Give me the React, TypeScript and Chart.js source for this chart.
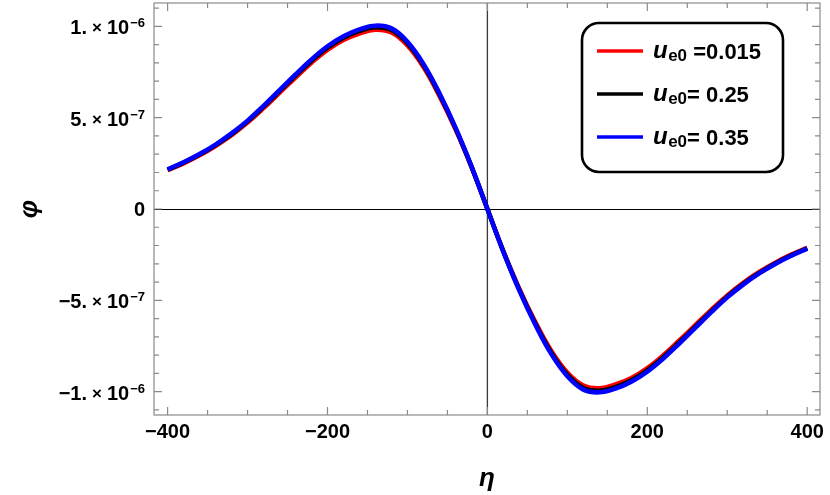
import React, { useEffect, useRef } from 'react';
import { Chart, registerables } from 'chart.js';

Chart.register(...registerables);

// ---------- data ----------
const etaValues = [
  -400, -380, -360, -340, -320, -300, -280, -260, -240, -220, -200, -180, -160, -140, -120, -100, -80, -60, -40, -20,
  0, 20, 40, 60, 80, 100, 120, 140, 160, 180, 200, 220, 240, 260, 280, 300, 320, 340, 360, 380, 400,
];

const phiRed = [
  2.12e-7, 2.5e-7, 2.94e-7, 3.45e-7, 4.04e-7, 4.73e-7, 5.52e-7, 6.36e-7, 7.2e-7, 8.01e-7, 8.71e-7, 9.25e-7, 9.61e-7, 9.81e-7, 9.66e-7, 8.95e-7, 7.77e-7, 6.19e-7, 4.37e-7, 2.3e-7,
  0, -2.3e-7, -4.37e-7, -6.19e-7, -7.77e-7, -8.95e-7, -9.66e-7, -9.81e-7, -9.61e-7, -9.25e-7, -8.71e-7, -8.01e-7, -7.2e-7, -6.36e-7, -5.52e-7, -4.73e-7, -4.04e-7, -3.45e-7, -2.94e-7, -2.5e-7, -2.12e-7,
];

const phiBlack = [
  2.15e-7, 2.54e-7, 2.98e-7, 3.5e-7, 4.1e-7, 4.8e-7, 5.6e-7, 6.45e-7, 7.3e-7, 8.12e-7, 8.83e-7, 9.38e-7, 9.75e-7, 9.95e-7, 9.8e-7, 9.08e-7, 7.88e-7, 6.28e-7, 4.43e-7, 2.33e-7,
  0, -2.33e-7, -4.43e-7, -6.28e-7, -7.88e-7, -9.08e-7, -9.8e-7, -9.95e-7, -9.75e-7, -9.38e-7, -8.83e-7, -8.12e-7, -7.3e-7, -6.45e-7, -5.6e-7, -4.8e-7, -4.1e-7, -3.5e-7, -2.98e-7, -2.54e-7, -2.15e-7,
];

const phiBlue = [
  2.17e-7, 2.56e-7, 3.01e-7, 3.53e-7, 4.14e-7, 4.84e-7, 5.65e-7, 6.51e-7, 7.37e-7, 8.19e-7, 8.91e-7, 9.46e-7, 9.84e-7, 10.04e-7, 9.89e-7, 9.16e-7, 7.95e-7, 6.34e-7, 4.47e-7, 2.35e-7,
  0, -2.35e-7, -4.47e-7, -6.34e-7, -7.95e-7, -9.16e-7, -9.89e-7, -10.04e-7, -9.84e-7, -9.46e-7, -8.91e-7, -8.19e-7, -7.37e-7, -6.51e-7, -5.65e-7, -4.84e-7, -4.14e-7, -3.53e-7, -3.01e-7, -2.56e-7, -2.17e-7,
];

const seriesColors = ['#ff0000', '#000000', '#0000ff'];
const seriesValueTexts = [' =0.015', '= 0.25', '= 0.35'];

const xMajorTicks = [-400, -200, 0, 200, 400];
const xMajorLabels = ['\u2212400', '\u2212200', '0', '200', '400'];
const xMinorTicks = [-350, -300, -250, -150, -100, -50, 50, 100, 150, 250, 300, 350];

const yMajorTicks = [-1e-6, -5e-7, 0, 5e-7, 1e-6];
const yMajorMantissas = ['\u22121.', '\u22125.', '0', '5.', '1.'];
const yMajorExponents = ['\u22126', '\u22127', '', '\u22127', '\u22126'];
const yMinorTicks = [
  -1.1e-6, -9e-7, -8e-7, -7e-7, -6e-7, -4e-7, -3e-7, -2e-7, -1e-7,
  1e-7, 2e-7, 3e-7, 4e-7, 6e-7, 7e-7, 8e-7, 9e-7, 1.1e-6,
];

const X_MIN = -417;
const X_MAX = 416;
const Y_MIN = -1.128e-6;
const Y_MAX = 1.128e-6;

const SANS = '"Liberation Sans", Arial, sans-serif';

const mmaPlugin = {
  id: 'mmaFrame',
  beforeDatasetsDraw(chart: any) {
    const { ctx, chartArea: a, scales } = chart;
    const x = scales.x;
    const y = scales.y;
    ctx.save();
    const y0 = Math.round(y.getPixelForValue(0)) + 0.5;
    ctx.beginPath();
    ctx.strokeStyle = '#000';
    ctx.lineWidth = 1;
    ctx.moveTo(a.left, y0);
    ctx.lineTo(a.right, y0);
    ctx.stroke();
    const x0 = x.getPixelForValue(0);
    ctx.beginPath();
    ctx.strokeStyle = '#3a3a3a';
    ctx.lineWidth = 1.3;
    ctx.moveTo(x0, a.top);
    ctx.lineTo(x0, a.bottom);
    ctx.stroke();
    ctx.restore();
  },
  afterDatasetsDraw(chart: any) {
    const { ctx, chartArea: a, scales } = chart;
    const x = scales.x;
    const y = scales.y;
    ctx.save();

    // frame
    ctx.strokeStyle = '#8a8a8a';
    ctx.lineWidth = 1.2;
    ctx.strokeRect(a.left, a.top, a.right - a.left, a.bottom - a.top);

    const majorLen = 8;
    const minorLen = 5;
    ctx.beginPath();
    const xt = (v: number, len: number) => {
      const px = x.getPixelForValue(v);
      ctx.moveTo(px, a.bottom);
      ctx.lineTo(px, a.bottom - len);
      ctx.moveTo(px, a.top);
      ctx.lineTo(px, a.top + len);
    };
    const yt = (v: number, len: number) => {
      const py = y.getPixelForValue(v);
      ctx.moveTo(a.left, py);
      ctx.lineTo(a.left + len, py);
      ctx.moveTo(a.right, py);
      ctx.lineTo(a.right - len, py);
    };
    xMajorTicks.forEach((v) => xt(v, majorLen));
    xMinorTicks.forEach((v) => xt(v, minorLen));
    yMajorTicks.forEach((v) => yt(v, majorLen));
    yMinorTicks.forEach((v) => yt(v, minorLen));
    ctx.stroke();

    // x tick labels
    ctx.fillStyle = '#000';
    ctx.font = `bold 20px ${SANS}`;
    ctx.textAlign = 'center';
    ctx.textBaseline = 'alphabetic';
    xMajorTicks.forEach((v, i) => {
      ctx.fillText(xMajorLabels[i], x.getPixelForValue(v), a.bottom + 23);
    });

    // y tick labels
    const rightEdge = a.left - 9;
    yMajorTicks.forEach((v, i) => {
      const py = y.getPixelForValue(v);
      const mant = yMajorMantissas[i];
      const exp = yMajorExponents[i];
      ctx.textAlign = 'right';
      ctx.textBaseline = 'alphabetic';
      if (!exp) {
        ctx.font = `bold 20px ${SANS}`;
        ctx.fillText(mant, rightEdge, py + 7);
        return;
      }
      ctx.font = `bold 13px ${SANS}`;
      const expW = ctx.measureText(exp).width;
      ctx.fillText(exp, rightEdge, py + 1);
      ctx.font = `bold 20px ${SANS}`;
      let cx = rightEdge - expW - 1;
      ctx.fillText('10', cx, py + 8);
      cx -= ctx.measureText('10').width + 5;
      ctx.font = `bold 17px ${SANS}`;
      ctx.fillText('\u00d7', cx, py + 7);
      cx -= ctx.measureText('\u00d7').width + 5;
      ctx.font = `bold 20px ${SANS}`;
      ctx.fillText(mant, cx, py + 8);
    });

    // axis labels
    ctx.font = `bold italic 26px ${SANS}`;
    ctx.textAlign = 'center';
    ctx.textBaseline = 'middle';
    ctx.fillText('\u03b7', (a.left + a.right) / 2, a.bottom + 64);
    ctx.save();
    ctx.translate(30, (a.top + a.bottom) / 2);
    ctx.rotate(-Math.PI / 2);
    ctx.fillText('\u03c6', 0, 0);
    ctx.restore();

    // legend
    const lx = 582;
    const ly = 23;
    const lw = 201;
    const lh = 149;
    ctx.beginPath();
    ctx.roundRect(lx, ly, lw, lh, 17);
    ctx.fillStyle = '#fff';
    ctx.fill();
    ctx.lineWidth = 2.6;
    ctx.strokeStyle = '#000';
    ctx.stroke();

    seriesColors.forEach((c, i) => {
      const yy = 51 + 43 * i;
      ctx.beginPath();
      ctx.strokeStyle = c;
      ctx.lineWidth = 3.5;
      ctx.moveTo(597, yy);
      ctx.lineTo(643, yy);
      ctx.stroke();
      ctx.fillStyle = '#000';
      ctx.textAlign = 'left';
      ctx.textBaseline = 'alphabetic';
      let tx = 653;
      ctx.font = `bold italic 24px ${SANS}`;
      ctx.fillText('u', tx, yy + 6.5);
      tx += ctx.measureText('u').width + 0.5;
      ctx.font = `bold 17px ${SANS}`;
      ctx.fillText('e0', tx, yy + 9.5);
      tx += ctx.measureText('e0').width;
      ctx.font = `bold 22px ${SANS}`;
      ctx.fillText(seriesValueTexts[i], tx, yy + 7.5);
    });

    ctx.restore();
  },
};

export default function App() {
  const canvasRef = useRef<HTMLCanvasElement | null>(null);

  useEffect(() => {
    const canvas = canvasRef.current;
    if (!canvas) return;
    const mk = (vals: number[]) => etaValues.map((e, i) => ({ x: e, y: vals[i] }));
    const chart = new Chart(canvas, {
      type: 'line',
      data: {
        datasets: [
          { label: 'u_e0 =0.015', data: mk(phiRed), borderColor: seriesColors[0], order: 2 },
          { label: 'u_e0= 0.25', data: mk(phiBlack), borderColor: seriesColors[1], order: 1 },
          { label: 'u_e0= 0.35', data: mk(phiBlue), borderColor: seriesColors[2], order: 0 },
        ].map((d) => ({
          ...d,
          borderWidth: 4.5,
          pointRadius: 0,
          fill: false,
          tension: 0.4,
          borderJoinStyle: 'round' as const,
        })),
      },
      options: {
        animation: false,
        responsive: false,
        devicePixelRatio: 1,
        layout: { padding: { top: 3, right: 10, left: 0, bottom: 0 } },
        plugins: { legend: { display: false }, tooltip: { enabled: false } },
        scales: {
          x: {
            type: 'linear',
            min: X_MIN,
            max: X_MAX,
            grid: { display: false },
            border: { display: false },
            ticks: { display: false },
            afterFit: (s: any) => {
              s.height = 80;
            },
          },
          y: {
            type: 'linear',
            min: Y_MIN,
            max: Y_MAX,
            grid: { display: false },
            border: { display: false },
            ticks: { display: false },
            afterFit: (s: any) => {
              s.width = 154;
            },
          },
        },
      },
      plugins: [mmaPlugin],
    });
    return () => chart.destroy();
  }, []);

  return (
    <div style={{ position: 'fixed', left: 0, top: 0, width: 830, height: 495, background: '#fff' }}>
      <canvas ref={canvasRef} width={830} height={495} />
    </div>
  );
}
